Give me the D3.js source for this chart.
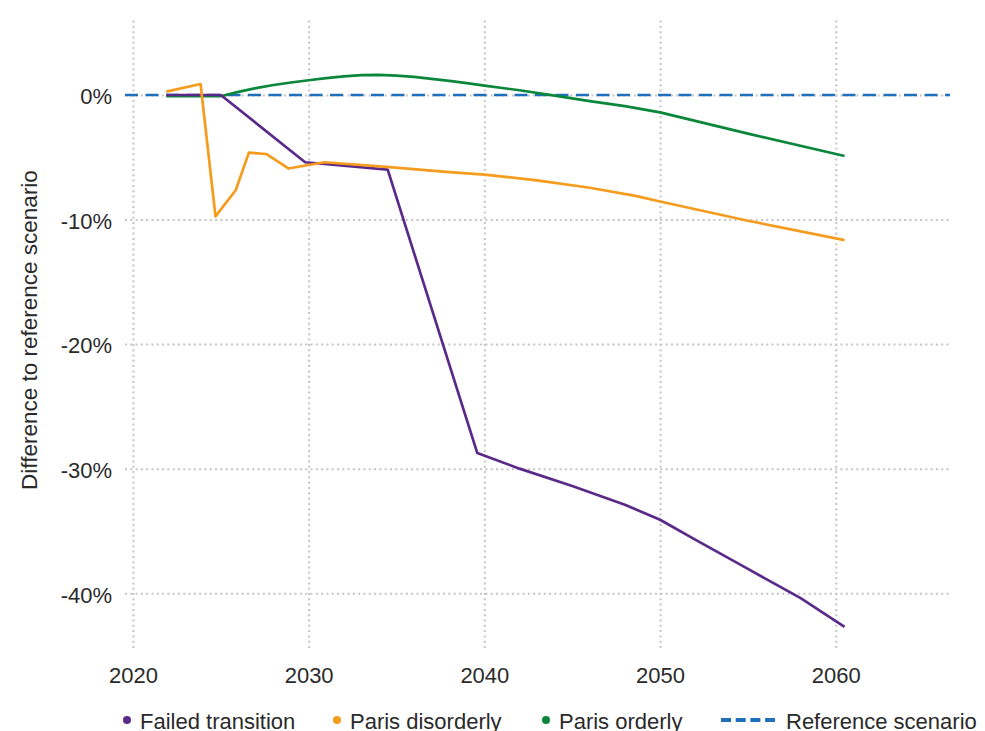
<!DOCTYPE html>
<html>
<head>
<meta charset="utf-8">
<script src="https://cdn.jsdelivr.net/npm/d3@7"></script>
<style>
  body { margin: 0; background: #fff; }
  svg text { font-family: "Liberation Sans", Arial, sans-serif; fill: #2a2a2a; }
</style>
</head>
<body>
<div id="chart"></div>
<script>
// tick values
var xTicks = [2020, 2030, 2040, 2050, 2060];
var yTicks = [0, -10, -20, -30, -40];

// Failed transition (% difference to reference scenario)
var failedYears  = [2021.9, 2025.0, 2029.8, 2034.5, 2039.6, 2042, 2045, 2048, 2050, 2052, 2055, 2058, 2060.5];
var failedValues = [0, 0, -5.4, -6.0, -28.75, -30.0, -31.4, -32.9, -34.1, -35.7, -38.05, -40.4, -42.7];

// Paris disorderly
var disorderlyYears  = [2021.9, 2023.85, 2024.7, 2025.85, 2026.6, 2027.6, 2028.85, 2030.9, 2034.6, 2038, 2040, 2043, 2046, 2048.6, 2050, 2055, 2060.5];
var disorderlyValues = [0.27, 0.88, -9.75, -7.65, -4.63, -4.74, -5.9, -5.4, -5.8, -6.2, -6.4, -6.85, -7.45, -8.1, -8.55, -10.1, -11.65];

// Paris orderly
var orderlyYears  = [2021.9, 2025, 2026, 2027, 2028, 2029, 2030, 2031, 2032, 2033, 2034, 2035, 2036, 2037, 2038, 2039, 2040, 2042, 2044, 2046, 2048, 2050, 2055, 2060.5];
var orderlyValues = [-0.1, -0.1, 0.25, 0.55, 0.8, 1.0, 1.18, 1.35, 1.5, 1.6, 1.62, 1.55, 1.45, 1.3, 1.13, 0.95, 0.75, 0.38, -0.05, -0.5, -0.9, -1.4, -3.1, -4.9];

// legend
var legendNames  = ["Failed transition", "Paris disorderly", "Paris orderly", "Reference scenario"];
var legendColors = ["#5a2a8a", "#f59c1f", "#0b873c", "#1f6fbd"];

var width = 985, height = 731;
var plot = {left: 125, right: 950, top: 19, bottom: 648};

var svg = d3.select("#chart")
  .append("svg")
    .attr("width", width)
    .attr("height", height);

var x = d3.scaleLinear()
  .domain([2019.55, 2066.5])
  .range([plot.left, plot.right]);

var y = d3.scaleLinear()
  .domain([-44.4, 6.1])
  .range([plot.bottom, plot.top]);

// X axis with vertical grid
var xAxis = svg.append("g")
  .attr("transform", "translate(0," + plot.bottom + ")")
  .call(d3.axisBottom(x)
    .tickValues(xTicks)
    .tickFormat(d3.format("d"))
    .tickSize(-(plot.bottom - plot.top))
    .tickPadding(19));
xAxis.select(".domain").remove();
xAxis.selectAll("line")
  .attr("stroke", "#c4c4c4")
  .attr("stroke-width", 2)
  .attr("stroke-dasharray", "2,3.3");
xAxis.selectAll("text")
  .style("font-size", "22px");

// Y axis with horizontal grid
var yAxis = svg.append("g")
  .attr("transform", "translate(" + plot.left + ",0)")
  .call(d3.axisLeft(y)
    .tickValues(yTicks)
    .tickFormat(function(d) { return d + "%"; })
    .tickSize(-(plot.right - plot.left))
    .tickPadding(13));
yAxis.select(".domain").remove();
yAxis.selectAll("line")
  .attr("stroke", "#c4c4c4")
  .attr("stroke-width", 2)
  .attr("stroke-dasharray", "2,3.3");
yAxis.selectAll("text")
  .attr("dy", "0.4em")
  .style("font-size", "22px");

// y axis title
svg.append("text")
  .attr("transform", "translate(37,330)rotate(-90)")
  .attr("text-anchor", "middle")
  .style("font-size", "22.5px")
  .text("Difference to reference scenario");

var line = d3.line()
  .x(function(d) { return x(d[0]); })
  .y(function(d) { return y(d[1]); });

// reference scenario across the whole plot
svg.append("path")
  .datum(x.domain().map(function(d) { return [d, 0]; }))
  .attr("fill", "none")
  .attr("stroke", legendColors[3])
  .attr("stroke-width", 2.5)
  .attr("stroke-dasharray", "13,7.5")
  .attr("d", line);

function drawSeries(years, values, color) {
  svg.append("path")
    .datum(d3.zip(years, values))
    .attr("fill", "none")
    .attr("stroke", color)
    .attr("stroke-width", 2.7)
    .attr("stroke-linejoin", "round")
    .attr("d", line);
}

drawSeries(orderlyYears, orderlyValues, legendColors[2]);
drawSeries(failedYears, failedValues, legendColors[0]);
drawSeries(disorderlyYears, disorderlyValues, legendColors[1]);

// legend
var legendX = [127, 337, 546, 721];
var legend = svg.selectAll(".legend")
  .data(legendNames)
  .enter()
  .append("g")
    .attr("transform", function(d, i) { return "translate(" + legendX[i] + ",720)"; });

legend.each(function(d, i) {
  var g = d3.select(this);
  if (i < 3) {
    g.append("circle")
      .attr("r", 4)
      .attr("fill", legendColors[i]);
    g.append("text")
      .attr("x", 13)
      .attr("y", 9)
      .style("font-size", "22px")
      .text(d);
  } else {
    g.append("line")
      .attr("x1", 0)
      .attr("x2", 54)
      .attr("stroke", legendColors[i])
      .attr("stroke-width", 4)
      .attr("stroke-dasharray", "10,4.7");
    g.append("text")
      .attr("x", 65)
      .attr("y", 9)
      .style("font-size", "22px")
      .text(d);
  }
});
</script>
</body>
</html>
